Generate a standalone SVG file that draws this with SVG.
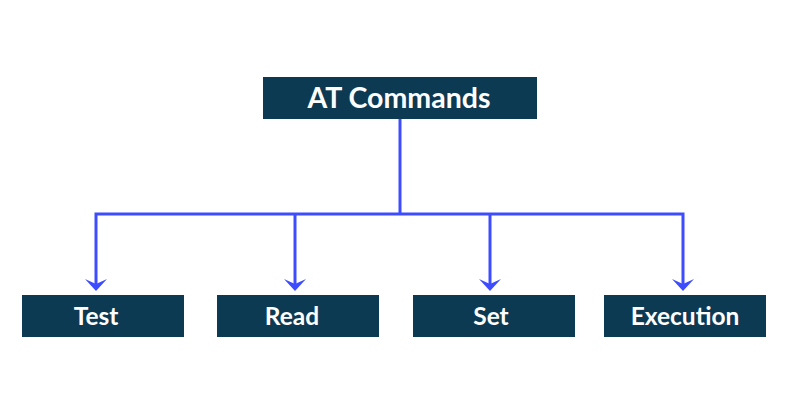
<svg xmlns="http://www.w3.org/2000/svg" width="800" height="400" viewBox="0 0 800 400">
<defs>
<style>
.box{fill:#0d3a53}
.lbl{fill:#fff;font-family:Lato,"Open Sans",sans-serif;font-weight:bold;text-anchor:middle}
.ln{fill:none;stroke:#3d4cff;stroke-width:3}
</style>
</defs>
<rect width="800" height="400" fill="#fff"/>
<g id="connectors">
<line class="ln" x1="400" y1="119" x2="400" y2="214"/>
<polyline class="ln" points="96,289 96,214 683,214 683,289"/>
<line class="ln" x1="295" y1="214" x2="295" y2="289"/>
<line class="ln" x1="490" y1="214" x2="490" y2="289"/>
<g fill="#3d4cff">
<path d="M96,291 L85,279 L96,284 L107,279 Z"/>
<path d="M295,291 L284,279 L295,284 L306,279 Z"/>
<path d="M490,291 L479,279 L490,284 L501,279 Z"/>
<path d="M683,291 L672,279 L683,284 L694,279 Z"/>
</g>
</g>
<g id="at-commands"><rect class="box" x="263" y="77" width="274" height="42"/><text class="lbl" x="399" y="108" font-size="28.5">AT Commands</text></g>
<g id="test"><rect class="box" x="22" y="295" width="162" height="42"/><text class="lbl" x="96" y="325" font-size="24.5">Test</text></g>
<g id="read"><rect class="box" x="217" y="295" width="162" height="42"/><text class="lbl" x="292" y="325" font-size="24.5">Read</text></g>
<g id="set"><rect class="box" x="413" y="295" width="162" height="42"/><text class="lbl" x="491" y="325" font-size="24.5">Set</text></g>
<g id="execution"><rect class="box" x="604" y="295" width="162" height="42"/><text class="lbl" x="685" y="325" font-size="24.5">Execution</text></g>
</svg>
